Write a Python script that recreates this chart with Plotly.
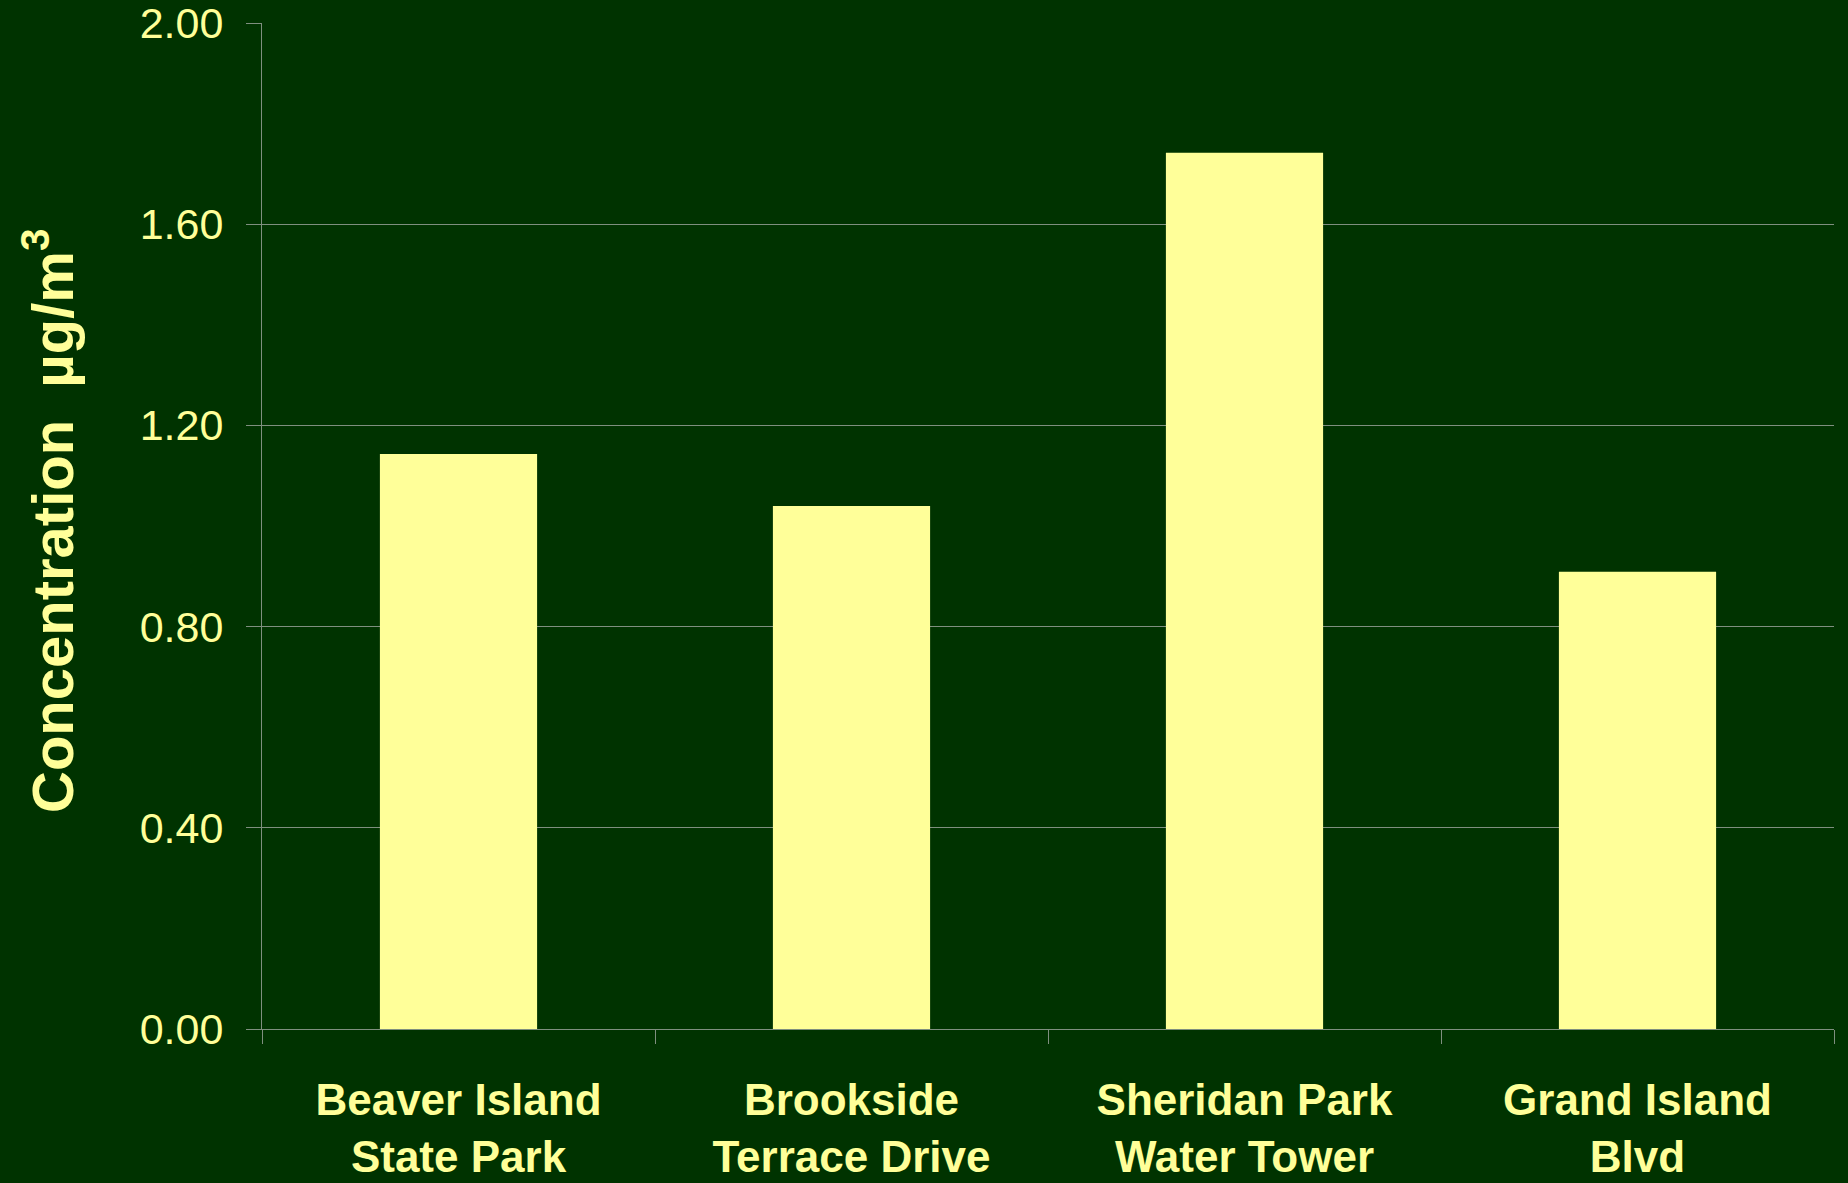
import plotly.graph_objects as go

categories = ["Beaver Island<br>State Park", "Brookside<br>Terrace Drive",
              "Sheridan Park<br>Water Tower", "Grand Island<br>Blvd"]
values = [1.143, 1.040, 1.742, 0.909]
y_ticks = [0.0, 0.4, 0.8, 1.2, 1.6, 2.0]
y_tick_labels = ["0.00", "0.40", "0.80", "1.20", "1.60", "2.00"]

BG = "#003300"
BAR = "#FFFF99"
TXT = "#FFFF99"
GRID = "#7f8f7f"
FONT = "Liberation Sans, Arial, sans-serif"

fig = go.Figure(go.Bar(x=categories, y=values, marker=dict(color=BAR, line=dict(width=0))))

fig.update_layout(
    width=1848, height=1183,
    paper_bgcolor=BG, plot_bgcolor=BG,
    margin=dict(l=262, r=14, t=23, b=154),
    bargap=0.6,
    showlegend=False,
    font=dict(family=FONT, color=TXT),
)
fig.update_xaxes(
    type="category", automargin=False, ticklabeloverflow="allow",
    showline=True, linecolor=GRID, linewidth=1,
    ticks="outside", tickson="boundaries", ticklen=14, tickcolor=GRID, tickwidth=1,
    showgrid=False,
    tickfont=dict(family=FONT, size=44, color=TXT, weight="bold"),
    ticklabelstandoff=32,
)
fig.update_yaxes(
    range=[0, 2], tickvals=y_ticks, ticktext=y_tick_labels, automargin=False,
    ticklabeloverflow="allow",
    showline=True, linecolor=GRID, linewidth=1,
    ticks="outside", ticklen=15, tickcolor=GRID, tickwidth=1,
    showgrid=True, gridcolor=GRID, gridwidth=1,
    zeroline=False,
    tickfont=dict(family=FONT, size=43, color=TXT),
    ticklabelstandoff=14,
)
fig.add_annotation(
    text="Concentration  µg/m<sup>3</sup>",
    textangle=-90, xref="paper", yref="paper", x=0, y=0.505,
    xanchor="center", yanchor="middle", xshift=-213, showarrow=False,
    font=dict(family=FONT, size=58, color=TXT, weight="bold"),
)
fig.write_html("out.html", config={"displayModeBar": False},
               post_script="document.body.style.margin='0';document.body.style.overflow='hidden';")
